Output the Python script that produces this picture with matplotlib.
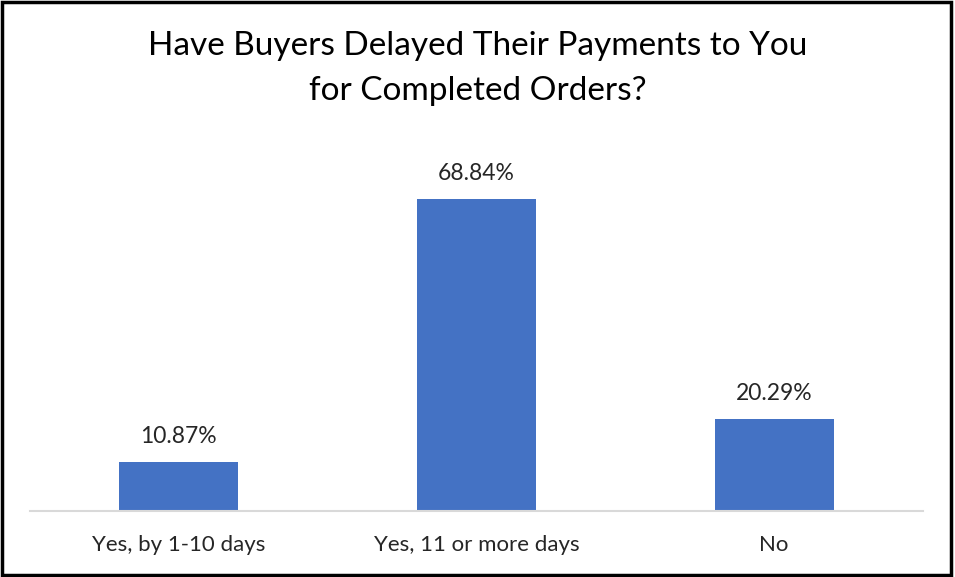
import matplotlib.pyplot as plt
from matplotlib.patches import Rectangle

categories = ["Yes, by 1-10 days", "Yes, 11 or more days", "No"]
values = [10.87, 68.84, 20.29]
value_labels = ["10.87%", "68.84%", "20.29%"]

plt.rcParams['font.family'] = ['Lato', 'DejaVu Sans']

fig = plt.figure(figsize=(9.55, 5.77), dpi=100)
# axes placed in pixel terms: x 30..923, baseline at y=511 (from top)
ax = fig.add_axes([30 / 955, (577 - 511) / 577, 893 / 955, 362 / 577])

x = list(range(len(categories)))
ax.bar(x, values, width=0.40, color='#4472C4', zorder=2)
for xi, v, lab in zip(x, values, value_labels):
    ax.annotate(lab, (xi, v), xytext=(0, 11), textcoords='offset points',
                ha='center', va='bottom', fontsize=16.5, color='#262626')

ax.set_xlim(-0.5, 2.5)
ax.set_ylim(0, 80)
ax.set_xticks(x)
ax.set_xticklabels(categories, fontsize=16, color='#262626')
ax.tick_params(axis='x', length=0, pad=17)
ax.set_yticks([])
for s in ['top', 'left', 'right']:
    ax.spines[s].set_visible(False)
ax.spines['bottom'].set_color('#D9D9D9')
ax.spines['bottom'].set_linewidth(1.5)

fig.text(0.5, 1 - 46 / 577, "Have Buyers Delayed Their Payments to You",
         ha='center', va='center', fontsize=24, color='#000000')
fig.text(0.5, 1 - 91 / 577, "for Completed Orders?",
         ha='center', va='center', fontsize=24, color='#000000')

# black frame around the chart
fig.patches.append(Rectangle((0.002, 0.003), 0.994, 0.994, transform=fig.transFigure,
                             fill=False, edgecolor='black', linewidth=2.5))

fig.savefig('out.png', dpi=100)
